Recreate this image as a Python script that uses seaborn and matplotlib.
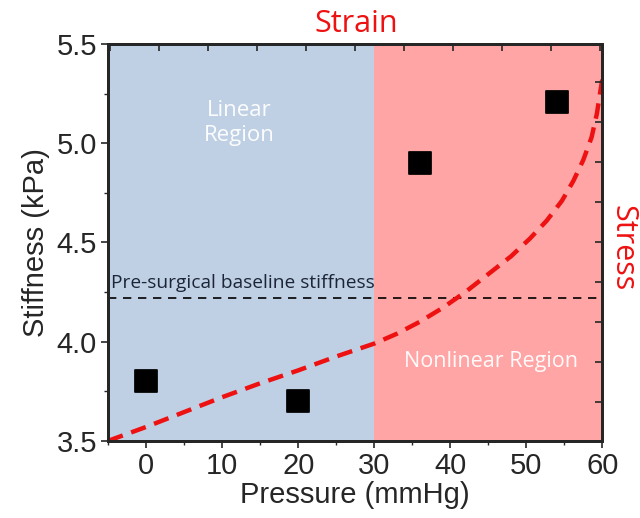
import numpy as np
import pandas as pd
import matplotlib
matplotlib.use('Agg')
import matplotlib.pyplot as plt
import seaborn as sns
from matplotlib.ticker import MultipleLocator

# measured points (pressure in mmHg, stiffness in kPa)
pressure_pts = [0, 20, 36, 54]
stiffness_pts = [3.80, 3.70, 4.90, 5.21]

# stress-strain style guide curve
curve_x = [-5, 0, 5, 10, 15, 20, 25, 30, 33, 36, 39, 42, 45, 48,
           50.5, 52.7, 54.7, 56.2, 57.5, 58.6, 59.3, 59.7, 60]
curve_y = [3.50, 3.57, 3.645, 3.72, 3.79, 3.855, 3.925, 3.99, 4.04, 4.10, 4.17, 4.25, 4.34, 4.43,
           4.52, 4.61, 4.71, 4.81, 4.915, 5.03, 5.15, 5.25, 5.32]

baseline_stiffness = 4.22
region_edges = [-5, 30, 60]
region_colors = ['#c0d0e4', '#ffa5a5']
region_names = ['Linear\nRegion', 'Nonlinear Region']

sns.set_style('ticks')
plt.rcParams['font.family'] = ['Liberation Sans', 'DejaVu Sans']
calibri_like = ['Open Sans', 'DejaVu Sans']

fig = plt.figure(figsize=(6.4, 5.18), dpi=100)
ax = fig.add_axes([0.169, 0.149, 0.772, 0.766])

# shaded regions
for i in range(len(region_edges) - 1):
    ax.axvspan(region_edges[i], region_edges[i + 1], color=region_colors[i], lw=0, zorder=0)

ax.axhline(baseline_stiffness, color='black', ls=(0, (5, 4)), lw=1.2, zorder=2)

curve_df = pd.DataFrame({'x': curve_x, 'y': curve_y})
sns.lineplot(data=curve_df, x='x', y='y', ax=ax, color='#ee1111', lw=3.2,
             linestyle=(0, (3.5, 2)), zorder=3, sort=False)

pts_df = pd.DataFrame({'p': pressure_pts, 's': stiffness_pts})
sns.scatterplot(data=pts_df, x='p', y='s', ax=ax, marker='s', s=250,
                color='black', edgecolor='black', zorder=4)

ax.set_xlim(-5, 60)
ax.set_ylim(3.5, 5.5)
ax.xaxis.set_major_locator(MultipleLocator(10))
ax.xaxis.set_minor_locator(MultipleLocator(5))
ax.yaxis.set_major_locator(MultipleLocator(0.5))
ax.yaxis.set_minor_locator(MultipleLocator(0.25))
ax.yaxis.set_major_formatter(matplotlib.ticker.FormatStrFormatter('%.1f'))
ax.tick_params(which='major', direction='out', length=5, width=1.2, labelsize=21, pad=3)
ax.tick_params(which='minor', direction='out', length=3, width=1.0)
ax.set_xlabel('Pressure (mmHg)', fontsize=21, labelpad=1)
ax.set_ylabel('Stiffness (kPa)', fontsize=21, labelpad=5)
for sp in ax.spines.values():
    sp.set_linewidth(2)
    sp.set_visible(True)

# secondary (strain / stress) axes, unlabeled ticks only
axt = ax.twiny()
axt.set_xlim(-1.04, 9.04)
axt.xaxis.set_major_locator(MultipleLocator(1))
axt.tick_params(axis='x', direction='in', length=5, width=1.2, labeltop=False)
axr = ax.twinx()
axr.set_ylim(-0.975, 8.95)
axr.yaxis.set_major_locator(MultipleLocator(1))
axr.tick_params(axis='y', direction='in', length=5, width=1.2, labelright=False)
for a in (axt, axr):
    for sp in a.spines.values():
        sp.set_linewidth(2)

fig.text(0.556, 0.953, 'Strain', color='#ee1111', fontsize=22,
         family=calibri_like, ha='center', va='center')
fig.text(0.972, 0.521, 'Stress', color='#ee1111', fontsize=22, rotation=270,
         family=calibri_like, ha='center', va='center')

ax.text(12.3, 5.10, region_names[0], color='white', fontsize=16, ha='center', va='center',
        family=calibri_like, linespacing=1.25, zorder=5, alpha=0.95)
ax.text(45.3, 3.9, region_names[1], color='white', fontsize=15.5, ha='center', va='center',
        family=calibri_like, zorder=5, alpha=0.95)
ax.text(-4.6, 4.25, 'Pre-surgical baseline stiffness', color='#1c2538', fontsize=13.8,
        ha='left', va='bottom', family=calibri_like, zorder=5)

fig.savefig('out.png', dpi=100)
